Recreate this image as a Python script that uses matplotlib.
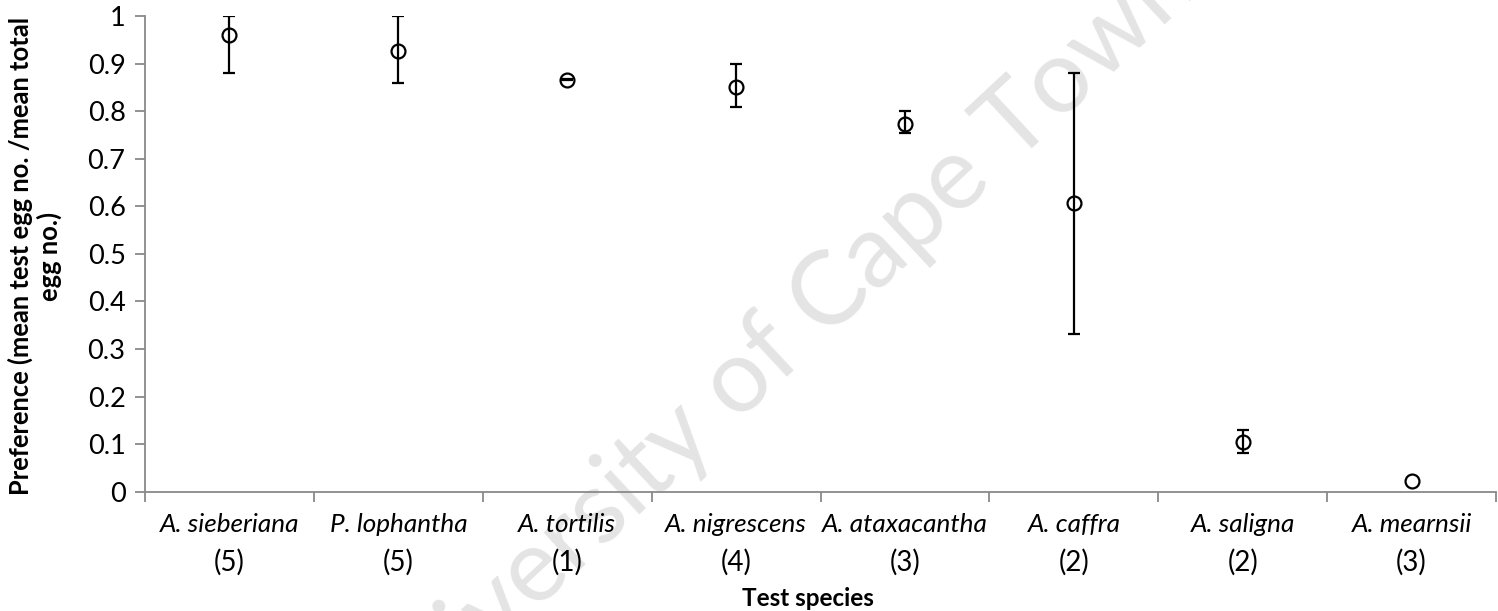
import numpy as np
import matplotlib.pyplot as plt

# data
species = ['A. sieberiana', 'P. lophantha', 'A. tortilis', 'A. nigrescens',
           'A. ataxacantha', 'A. caffra', 'A. saligna', 'A. mearnsii']
n_reps = [5, 5, 1, 4, 3, 2, 2, 3]
pref = [0.961, 0.926, 0.866, 0.850, 0.773, 0.607, 0.105, 0.023]
# error bar ends (None = no bar shown)
err_low = [0.880, 0.860, 0.865, 0.809, 0.754, 0.332, 0.081, None]
err_high = [1.000, 1.000, 0.867, 0.900, 0.800, 0.880, 0.130, None]

plt.rcParams['font.family'] = ['Lato', 'DejaVu Sans']

fig = plt.figure(figsize=(14.98, 6.11), dpi=100)
ax = fig.add_axes([0.0968, 0.1953, 0.9019, 0.7785])
ax.patch.set_visible(False)

x = np.arange(len(species))
pref = np.array(pref)
lo = np.array([np.nan if v is None else v for v in err_low])
hi = np.array([np.nan if v is None else v for v in err_high])
yerr = np.vstack([pref - lo, hi - pref])

ax.errorbar(x, pref, yerr=yerr, fmt='o', mfc='none', mec='black', mew=1.6,
            ms=10, ecolor='black', elinewidth=1.6, capsize=4.5, capthick=1.6,
            zorder=3)

ax.set_xlim(-0.5, len(species) - 0.5)
ax.set_ylim(0, 1)
ax.set_yticks(np.arange(0, 1.01, 0.1))
ax.set_yticklabels(['0'] + [f'{v:.1f}' for v in np.arange(0.1, 0.95, 0.1)] + ['1'])
ax.set_xticks(np.arange(-0.5, len(species), 1))
ax.set_xticklabels([])

grey = '#898989'
for s in ['top', 'right']:
    ax.spines[s].set_visible(False)
for s in ['left', 'bottom']:
    ax.spines[s].set_color(grey)
    ax.spines[s].set_linewidth(1.3)
ax.tick_params(axis='both', color=grey, width=1.3, length=7, direction='out')
ax.tick_params(axis='y', labelsize=19.5, pad=7)

tr = ax.get_xaxis_transform()
for i, (sp, n) in enumerate(zip(species, n_reps)):
    ax.text(i, -0.068, sp, transform=tr, ha='center', va='center',
            fontsize=18.8, style='italic')
    ax.text(i, -0.148, f'({n})', transform=tr, ha='center', va='center',
            fontsize=20)

fig.text(808 / 1498, 1 - 598 / 611, 'Test species', ha='center', va='center',
         fontsize=17.5, fontweight='bold')
fig.text(35 / 1498, 1 - 256 / 611,
         'Preference (mean test egg no. /mean total\negg no.)',
         ha='center', va='center', rotation=90, fontsize=18.4,
         fontweight='bold', linespacing=1.15)

# faint watermark behind everything
fig.text(772 / 1498, 1 - 352 / 611, 'University of Cape Town', ha='center',
         va='center', rotation=43, fontsize=74, color='#e4e4e4', zorder=-5)

fig.savefig('out.png', dpi=100)
